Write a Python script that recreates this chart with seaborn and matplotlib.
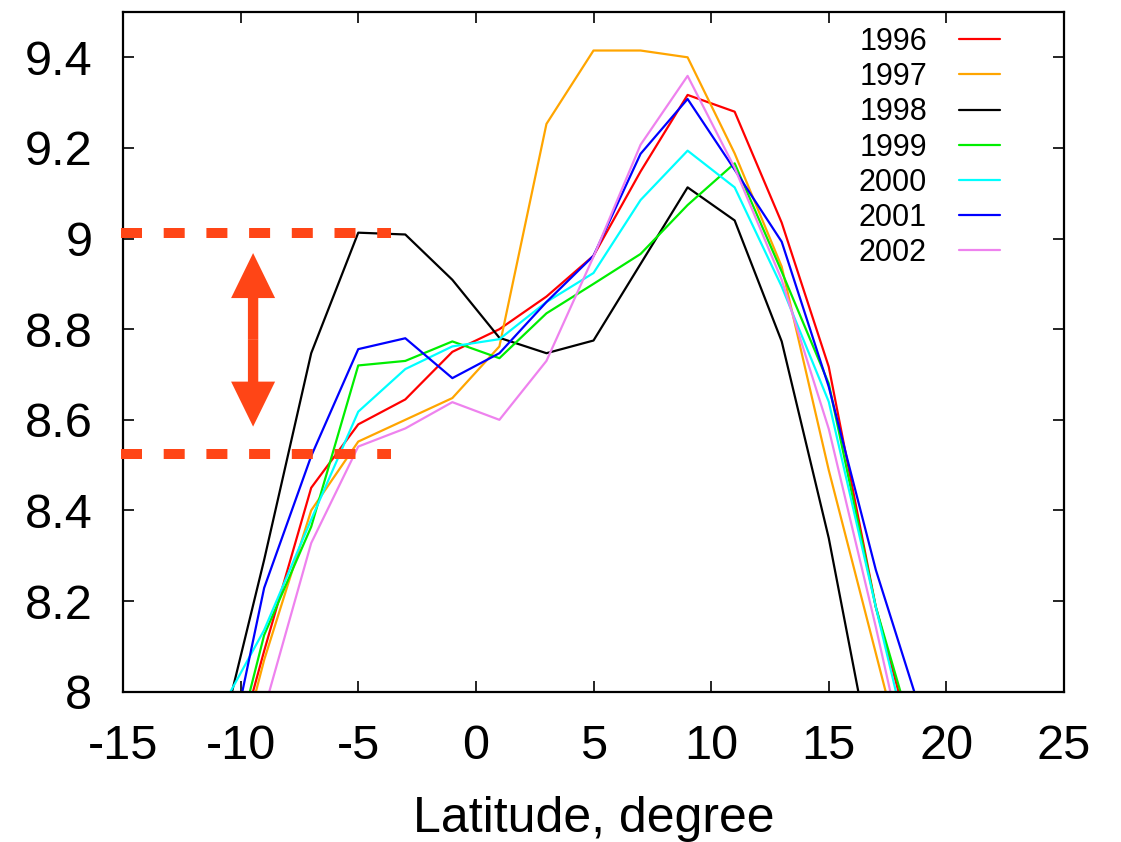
import numpy as np
import pandas as pd
import matplotlib
matplotlib.use("Agg")
import matplotlib.pyplot as plt
import seaborn as sns

# ---- data ----
latitude = [-11, -9, -7, -5, -3, -1, 1, 3, 5, 7, 9, 11, 13, 15, 17, 19]
years = ["1996", "1997", "1998", "1999", "2000", "2001", "2002"]
v1996 = [7.71, 8.09, 8.45, 8.59, 8.645, 8.75, 8.80, 8.872, 8.962, 9.148, 9.317, 9.28, 9.035, 8.717, 8.187, 7.80]
v1997 = [7.67, 8.07, 8.40, 8.552, 8.60, 8.648, 8.762, 9.253, 9.415, 9.415, 9.40, 9.188, 8.938, 8.489, 8.085, 7.68]
v1998 = [7.865, 8.291, 8.747, 9.013, 9.009, 8.909, 8.781, 8.747, 8.775, 8.944, 9.113, 9.04, 8.773, 8.339, 7.80, 7.40]
v1999 = [7.714, 8.125, 8.364, 8.72, 8.73, 8.773, 8.736, 8.835, 8.90, 8.966, 9.074, 9.166, 8.927, 8.68, 8.187, 7.83]
v2000 = [7.946, 8.136, 8.38, 8.618, 8.712, 8.762, 8.778, 8.86, 8.924, 9.085, 9.194, 9.113, 8.894, 8.64, 8.187, 7.75]
v2001 = [7.735, 8.229, 8.52, 8.756, 8.78, 8.692, 8.747, 8.86, 8.962, 9.187, 9.308, 9.152, 8.993, 8.673, 8.269, 7.94]
v2002 = [7.60, 7.96, 8.328, 8.541, 8.581, 8.639, 8.60, 8.73, 8.96, 9.207, 9.359, 9.156, 8.909, 8.58, 8.143, 7.68]
series = [v1996, v1997, v1998, v1999, v2000, v2001, v2002]
colors = ["#FF0000", "#FFA500", "#000000", "#00EE00", "#00FFFF", "#0000FF", "#EE82EE"]

band_levels = [9.012, 8.524]        # dashed reference levels
band_x = [-15.07, -3.59]           # extent of dashed lines
arrow_x = -9.47
arrow_tips = [8.585, 8.968]
xticks = [-15, -10, -5, 0, 5, 10, 15, 20, 25]
yticks = [8, 8.2, 8.4, 8.6, 8.8, 9, 9.2, 9.4]
xlabel = "Latitude, degree"
accent = "#FF4516"

# ---- style ----
sns.set_style("ticks")
plt.rcParams["font.family"] = ["Liberation Sans", "DejaVu Sans"]
plt.rcParams["text.color"] = "black"
plt.rcParams["axes.labelcolor"] = "black"
plt.rcParams["xtick.color"] = "black"
plt.rcParams["ytick.color"] = "black"

df = pd.DataFrame({
    "lat": np.tile(latitude, len(years)),
    "val": np.concatenate(series),
    "year": np.repeat(years, len(latitude)),
})

W, H = 1121, 842
fig = plt.figure(figsize=(W / 100, H / 100), dpi=100)
ax = fig.add_axes([123 / W, 1 - 691.7 / H, (1064 - 123) / W, (691.7 - 12) / H])

sns.lineplot(data=df, x="lat", y="val", hue="year", palette=dict(zip(years, colors)),
             estimator=None, sort=True, lw=1.6, ax=ax, legend=True)

ax.set_xlim(-15, 25)
ax.set_ylim(8, 9.5)
ax.set_xticks(xticks)
ax.set_yticks(yticks)
ax.set_xticklabels([f"{t:g}" for t in xticks])
ax.set_yticklabels([f"{t:g}" for t in yticks])
ax.tick_params(direction="in", length=8, width=1.2, labelsize=35, top=True, right=True,
               colors="black", labelcolor="black")
ax.tick_params(axis="x", pad=23)
ax.tick_params(axis="y", pad=22)
for s in ax.spines.values():
    s.set_linewidth(1.6)
    s.set_color("black")
ax.set_xlabel(xlabel, fontsize=36, labelpad=20, color="black")
ax.set_ylabel("")

# dashed reference lines
for lv in band_levels:
    ax.plot(band_x, [lv, lv], color=accent, lw=7.2, linestyle=(0, (2.1, 2.17)),
            solid_capstyle="butt", dash_capstyle="butt", clip_on=False, zorder=5)

# double-headed arrow
mid = (arrow_tips[0] + arrow_tips[1]) / 2
for tip in arrow_tips:
    ax.arrow(arrow_x, mid, 0, tip - mid, width=0.44, head_width=1.87, head_length=0.0993,
             length_includes_head=True, color=accent, lw=0, zorder=5)

# legend
handles, labels = ax.get_legend_handles_labels()
leg = ax.legend(handles, labels, loc="upper right", bbox_to_anchor=(0.932, 0.978),
                frameon=False, markerfirst=False, fontsize=22, handlelength=1.34,
                handletextpad=1.05, labelspacing=0.17, borderpad=0, borderaxespad=0)
for t in leg.get_texts():
    t.set_color("black")

fig.savefig("out.png", dpi=100)
